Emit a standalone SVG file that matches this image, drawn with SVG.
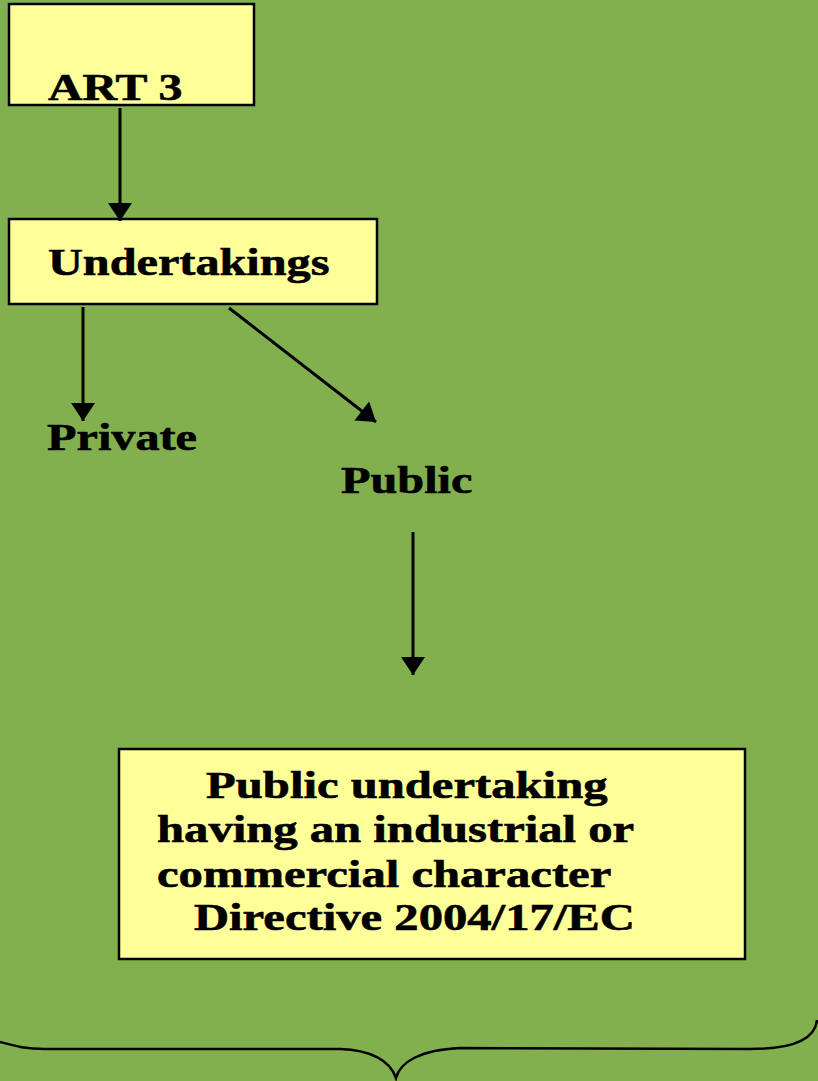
<svg xmlns="http://www.w3.org/2000/svg" width="818" height="1081" viewBox="0 0 818 1081">
<defs>
<style>
.box{fill:#FFFF99;stroke:#000;stroke-width:2.5}
.t{font-family:"Liberation Serif","Times New Roman",serif;font-weight:bold;font-size:38px;fill:#000;stroke:#000;stroke-width:0.6}
.tb{font-family:"Liberation Serif","Times New Roman",serif;font-weight:bold;font-size:37px;fill:#000;stroke:#000;stroke-width:0.6}
.c{stroke:#000;stroke-width:3;fill:none}
</style>
<marker id="ah" markerUnits="userSpaceOnUse" markerWidth="24" markerHeight="24" viewBox="0 0 18 24" refX="18" refY="12" orient="auto">
<path d="M0,0 L18,12 L0,24 Z" fill="#000"/>
</marker>
</defs>
<rect x="0" y="0" width="818" height="1081" fill="#83B04F"/>
<g id="art3">
<rect class="box" x="9" y="4" width="245" height="101"/>
<text class="t" transform="translate(48,100) scale(1.26,1)">ART 3</text>
</g>
<g id="undertakings">
<rect class="box" x="9" y="219" width="368" height="85"/>
<text class="t" transform="translate(48,275) scale(1.27,1)">Undertakings</text>
</g>
<g id="private">
<text class="t" transform="translate(47,450) scale(1.27,1)">Private</text>
</g>
<g id="public">
<text class="t" transform="translate(341,493) scale(1.27,1)">Public</text>
</g>
<g id="public-undertaking">
<rect class="box" x="119" y="749" width="626" height="210"/>
<g transform="scale(1.315,1)">
<text class="tb" x="156.7" y="798">Public undertaking</text>
<text class="tb" x="119.4" y="842">having an industrial or</text>
<text class="tb" x="119.4" y="887">commercial character</text>
<text class="tb" x="147.5" y="930">Directive 2004/17/EC</text>
</g>
</g>
<g id="connectors">
<line class="c" x1="120" y1="108" x2="120" y2="221" marker-end="url(#ah)"/>
<line class="c" x1="83" y1="307" x2="83" y2="421" marker-end="url(#ah)"/>
<line class="c" x1="229" y1="308" x2="376" y2="422" marker-end="url(#ah)"/>
<line class="c" x1="413" y1="532" x2="413" y2="675" marker-end="url(#ah)"/>
</g>
<g id="brace">
<path d="M0,1042 C15,1046 25,1049 45,1049 L340,1049 C370,1050 390,1060 396,1078 C400,1062 420,1050 460,1048 L750,1049 C790,1049 815,1040 817,1020" fill="none" stroke="#000" stroke-width="2.5"/>
</g>
</svg>
